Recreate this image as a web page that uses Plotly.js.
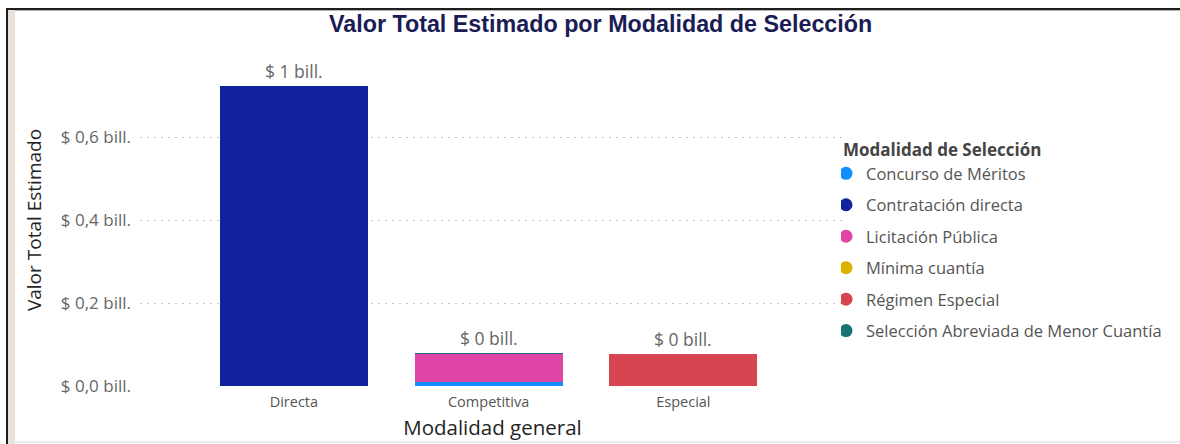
<!DOCTYPE html>
<html>
<head>
<meta charset="utf-8">
<script src="https://cdn.plot.ly/plotly-3.0.1.min.js"></script>
<style>
  html, body { margin: 0; padding: 0; background: #ffffff; width: 1180px; height: 444px; overflow: hidden; }
  #chart { position: absolute; left: 0; top: 0; width: 1180px; height: 444px; }
  .deco { position: absolute; pointer-events: none; }
</style>
</head>
<body>
<div class="deco" style="left:6px; top:8px; width:1174px; height:2px; background:#1e1e1e;"></div>
<div class="deco" style="left:6px; top:10px; width:1174px; height:1px; background:#b8b8b8;"></div>
<div class="deco" style="left:6px; top:8px; width:2px; height:436px; background:#1e1e1e;"></div>
<div class="deco" style="left:8px; top:10px; width:7px; height:434px; background:#e9e1dc;"></div>
<div class="deco" style="left:15px; top:441px; width:1165px; height:2px; background:#ececec;"></div>
<div id="chart"></div>
<script>
// ---- Data (valores en billones de pesos) ----
const categories = ["Directa", "Competitiva", "Especial"];
const modalidades = [
  "Concurso de Méritos",
  "Contratación directa",
  "Licitación Pública",
  "Mínima cuantía",
  "Régimen Especial",
  "Selección Abreviada de Menor Cuantía"
];
const concursoMeritos      = [0, 0.010, 0];
const contratacionDirecta  = [0.723, 0, 0];
const licitacionPublica    = [0, 0.0675, 0];
const minimaCuantia        = [0, 0.0005, 0];
const regimenEspecial      = [0, 0, 0.077];
const seleccionAbreviada   = [0, 0.0015, 0];
const yTickVals  = [0, 0.2, 0.4, 0.6];
const yTickText  = ["$ 0,0 bill.", "$ 0,2 bill.", "$ 0,4 bill.", "$ 0,6 bill."];

const seriesValues = [concursoMeritos, contratacionDirecta, licitacionPublica, minimaCuantia, regimenEspecial, seleccionAbreviada];
const colors = ["#118DFF", "#12239E", "#E044A7", "#D9B300", "#D64550", "#197278"];

const font = "'Open Sans', 'Noto Sans', sans-serif";
const traces = [];
seriesValues.forEach((vals, i) => {
  traces.push({
    type: "bar",
    x: categories,
    y: vals,
    name: modalidades[i],
    marker: { color: colors[i] },
    width: 0.76,
    showlegend: false,
    hovertemplate: modalidades[i] + ": %{y:.3f} bill.<extra></extra>"
  });
});

// legend entries with circle markers
modalidades.forEach((m, i) => {
  traces.push({
    type: "scatter",
    mode: "markers",
    x: [null],
    y: [null],
    name: m,
    legendgroup: "g" + i,
    marker: { color: colors[i], size: 13, symbol: "circle" },
    showlegend: true,
    hoverinfo: "skip"
  });
});

// totals -> data labels
const totals = categories.map((c, j) => seriesValues.reduce((s, v) => s + v[j], 0));
const labelAnnotations = categories.map((c, j) => ({
  x: c,
  y: totals[j],
  xref: "x", yref: "y",
  text: "$ " + Math.round(totals[j]) + " bill.",
  showarrow: false,
  yanchor: "middle",
  yshift: 15,
  font: { family: font, size: 17.5, color: "#666666" }
}));

const layout = {
  width: 1180,
  height: 444,
  paper_bgcolor: "rgba(0,0,0,0)",
  plot_bgcolor: "rgba(0,0,0,0)",
  margin: { l: 140, r: 335, t: 54, b: 58, autoexpand: false },
  barmode: "stack",
  font: { family: font },
  title: {
    text: "<b>Valor Total Estimado por Modalidad de Selección</b>",
    font: { family: "'Liberation Sans', Arial, sans-serif", size: 23.3, color: "#191c55" },
    xref: "container", x: 0.509, xanchor: "center",
    yref: "container", y: 1 - 24 / 444, yanchor: "middle"
  },
  xaxis: {
    type: "category",
    range: [-0.79, 2.83],
    showgrid: false,
    zeroline: false,
    showline: false,
    ticks: "",
    ticklabelstandoff: 5,
    tickfont: { family: font, size: 14.5, color: "#555555" },
    title: { text: "Modalidad general", font: { family: font, size: 20.5, color: "#252423" }, standoff: 11 },
    automargin: false,
    fixedrange: true
  },
  yaxis: {
    range: [0, 0.8],
    tickvals: yTickVals,
    ticktext: yTickText,
    tickfont: { family: font, size: 17, color: "#666666" },
    showgrid: true,
    gridcolor: "#c8c8c8",
    griddash: "2px,5px",
    gridwidth: 1,
    zeroline: false,
    showline: false,
    ticks: "",
    ticklabelstandoff: 8,
    title: { text: "Valor Total Estimado", font: { family: font, size: 19, color: "#252423" }, standoff: 14 },
    automargin: false,
    fixedrange: true
  },
  annotations: labelAnnotations,
  showlegend: true,
  legend: {
    xref: "container", x: 841 / 1180, xanchor: "left",
    yref: "container", y: 1 - 134 / 444, yanchor: "top",
    title: { text: "<b>Modalidad de Selección</b>", font: { family: font, size: 17, color: "#444444" } },
    font: { family: font, size: 16.5, color: "#555555" },
    indentation: -15,
    tracegroupgap: 7,
    itemwidth: 30,
    bgcolor: "rgba(0,0,0,0)"
  },
  hovermode: "closest"
};

Plotly.newPlot("chart", traces, layout, { displayModeBar: false, responsive: false });
</script>
</body>
</html>
